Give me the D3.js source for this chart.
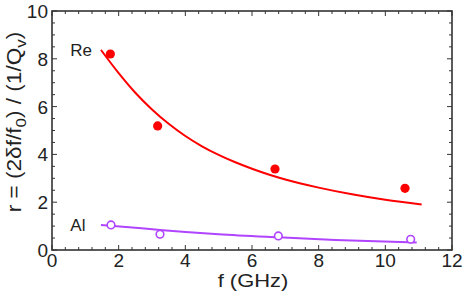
<!DOCTYPE html>
<html>
<head>
<meta charset="utf-8">
<script src="https://cdn.jsdelivr.net/npm/d3@7"></script>
<style>
  body { margin: 0; background: #fff; }
  text { font-family: "Liberation Sans", Arial, sans-serif; fill: #222; }
</style>
</head>
<body>
<svg id="chart"></svg>
<script>
// measured points
var reF = [1.75, 3.17, 6.69, 10.59];
var reR = [8.2, 5.19, 3.39, 2.58];
var alF = [1.77, 3.24, 6.79, 10.76];
var alR = [1.05, 0.66, 0.59, 0.45];

// fit curves
var reFitF = [1.47, 2.0, 2.5, 3.0, 3.5, 4.0, 4.5, 5.0, 5.5, 6.0, 6.5, 7.0, 8.0, 9.0, 10.0, 11.09];
var reFitR = [8.37, 7.40, 6.58, 5.88, 5.28, 4.77, 4.34, 3.98, 3.67, 3.40, 3.16, 2.95, 2.61, 2.33, 2.10, 1.90];
var alFitF = [1.47, 2.5, 3.24, 5.0, 6.79, 8.5, 10.94];
var alFitR = [1.05, 0.93, 0.84, 0.66, 0.53, 0.42, 0.31];

var xTicks = [0, 2, 4, 6, 8, 10, 12];
var yTicks = [0, 2, 4, 6, 8, 10];

var W = 464, H = 300;
var margin = {top: 11, right: 12, bottom: 50, left: 52};
var width = W - margin.left - margin.right,
    height = H - margin.top - margin.bottom;

var svg = d3.select("#chart").attr("width", W).attr("height", H);
var g = svg.append("g").attr("transform", "translate(" + margin.left + "," + margin.top + ")");

var x = d3.scaleLinear().domain([0, 12]).range([0, width]);
var y = d3.scaleLinear().domain([0, 10]).range([height, 0]);

var axisColor = "#333";
var xMinor = d3.range(0, 12.01, 0.4).filter(function(v) { return Math.abs(v / 2 - Math.round(v / 2)) > 0.01; });
var yMinor = d3.range(0, 10.01, 0.5).filter(function(v) { return Math.abs(v / 2 - Math.round(v / 2)) > 0.01; });

// ticks inside on all four sides
function drawTicks(vals, len) {
  vals.forEach(function(v) {
    g.append("line").attr("x1", x(v)).attr("x2", x(v)).attr("y1", height).attr("y2", height - len);
    g.append("line").attr("x1", x(v)).attr("x2", x(v)).attr("y1", 0).attr("y2", len);
  });
}
function drawYTicks(vals, len) {
  vals.forEach(function(v) {
    g.append("line").attr("y1", y(v)).attr("y2", y(v)).attr("x1", 0).attr("x2", len);
    g.append("line").attr("y1", y(v)).attr("y2", y(v)).attr("x1", width).attr("x2", width - len);
  });
}
drawTicks(xTicks, 5);
drawTicks(xMinor, 3);
drawYTicks(yTicks, 5);
drawYTicks(yMinor, 3);
g.selectAll("line").attr("stroke", axisColor).attr("stroke-width", 1);

g.append("rect")
  .attr("width", width).attr("height", height)
  .attr("fill", "none").attr("stroke", axisColor).attr("stroke-width", 1.6);

// tick labels
g.selectAll(".xl").data(xTicks).enter().append("text")
  .attr("x", function(d) { return x(d); })
  .attr("y", height + 17)
  .attr("text-anchor", "middle")
  .style("font-size", "19px")
  .text(function(d) { return d; });

g.selectAll(".yl").data(yTicks).enter().append("text")
  .attr("x", -4)
  .attr("y", function(d) { return y(d) + 7; })
  .attr("text-anchor", "end")
  .style("font-size", "19px")
  .text(function(d) { return d; });

// axis titles
g.append("text")
  .attr("transform", "translate(" + (width / 2 + 1) + "," + (height + 37) + ") scale(1.22,1)")
  .attr("text-anchor", "middle")
  .style("font-size", "18px")
  .text("f (GHz)");

var yt = svg.append("text")
  .attr("transform", "translate(21,122) rotate(-90) scale(1.13,1)")
  .attr("text-anchor", "middle")
  .style("font-size", "20px");
yt.append("tspan").text("r = (2\u03B4f/f");
yt.append("tspan").attr("dy", 5).style("font-size", "15px").text("0");
yt.append("tspan").attr("dy", -5).text(") / (1/Q");
yt.append("tspan").attr("dy", 5).style("font-size", "15px").text("v");
yt.append("tspan").attr("dy", -5).text(")");

var line = d3.line()
  .x(function(d) { return x(d[0]); })
  .y(function(d) { return y(d[1]); })
  .curve(d3.curveMonotoneX);

var red = "#ff0000", purple = "#b044ff";

g.append("path")
  .datum(d3.zip(reFitF, reFitR))
  .attr("d", line)
  .attr("fill", "none").attr("stroke", red).attr("stroke-width", 2);

g.append("path")
  .datum(d3.zip(alFitF, alFitR))
  .attr("d", line)
  .attr("fill", "none").attr("stroke", purple).attr("stroke-width", 2);

g.selectAll(".re").data(d3.zip(reF, reR)).enter().append("circle")
  .attr("cx", function(d) { return x(d[0]); })
  .attr("cy", function(d) { return y(d[1]); })
  .attr("r", 4.6)
  .attr("fill", red);

g.selectAll(".al").data(d3.zip(alF, alR)).enter().append("circle")
  .attr("cx", function(d) { return x(d[0]); })
  .attr("cy", function(d) { return y(d[1]); })
  .attr("r", 3.8)
  .attr("fill", "#fff")
  .attr("stroke", purple).attr("stroke-width", 1.6);

// series labels
g.append("text").attr("x", x(0.55)).attr("y", y(8.37) + 6)
  .style("font-size", "17px").text("Re");
g.append("text").attr("x", x(0.55)).attr("y", y(1.05) + 6)
  .style("font-size", "17px").text("Al");
</script>
</body>
</html>
